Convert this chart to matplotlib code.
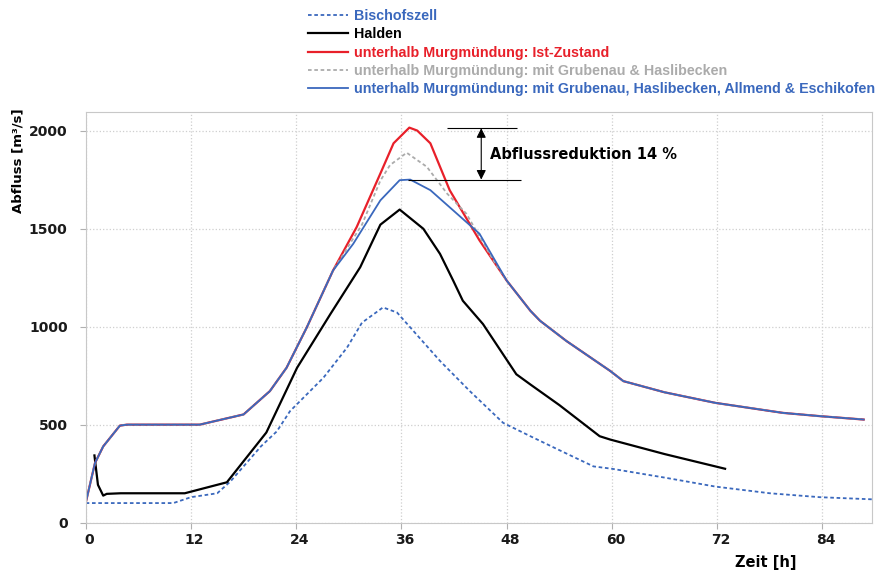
#Abflussganglinien Thur - Hochwasser mit Rückhalteräumen

import matplotlib
matplotlib.use("Agg")
import matplotlib.pyplot as plt
from matplotlib.transforms import ScaledTranslation

# Ganglinien (Zeit [h], Abfluss [m3/s])
t_bischofszell = [0, 10, 12, 15, 16.5, 20, 21.8, 23.3, 27.1, 29.8, 31.5, 33.9, 35.5, 37.7, 40.4,
                  43.8, 47.6, 50.7, 54, 57.9, 60, 66, 71.8, 78, 83.7, 89.7]
q_bischofszell = [100, 100, 130, 150, 210, 390, 466, 569, 739, 893, 1020, 1098, 1072, 961, 825,
                  671, 509, 441, 370, 287, 275, 230, 184, 150, 130, 119]

t_halden = [1.0, 1.4, 2.0, 2.4, 4, 11.3, 16.1, 20.6, 24.1, 27.9, 31.3, 33.6, 35.8,
            38.5, 40.4, 41.9, 43, 45.3, 49.1, 50.7, 54, 58.6, 59.8, 66, 72.9]
q_halden = [343, 193, 138, 147, 150, 150, 206, 460, 790, 1064, 1303, 1520, 1597,
            1499, 1371, 1235, 1132, 1013, 757, 705, 600, 441, 424, 350, 275]

# gemeinsamer Anstieg und gemeinsamer Rückgang der drei Varianten unterhalb Murgmündung
t_anstieg = [0, 1.06, 2, 3.9, 4.7, 13, 18, 21, 22.9, 25.2, 28.2]
q_anstieg = [100, 304, 389, 495, 500, 500, 552, 671, 790, 995, 1286]
t_rueckgang = [48, 50.7, 51.8, 54.8, 59.8, 61.3, 66, 71.8, 79.5, 83.8, 88.7]
q_rueckgang = [1235, 1081, 1030, 927, 774, 722, 665, 611, 560, 543, 526]

t_ist = t_anstieg + [30.9, 33.6, 35.1, 36.9, 37.8, 39.3, 41.5, 44.9] + t_rueckgang
q_ist = q_anstieg + [1508, 1781, 1935, 2015, 2000, 1935, 1696, 1440] + q_rueckgang

t_grubenau = t_anstieg + [31.5, 33.6, 34.7, 36.6, 38.9, 41.2, 43.4, 46.5] + t_rueckgang
q_grubenau = q_anstieg + [1520, 1745, 1824, 1887, 1815, 1679, 1576, 1337] + q_rueckgang

t_alle = t_anstieg + [30.5, 33.6, 35.8, 37, 39.3, 41.9, 44.9] + t_rueckgang
q_alle = q_anstieg + [1422, 1644, 1747, 1750, 1696, 1593, 1474] + q_rueckgang

labels = ["Bischofszell",
          "Halden",
          "unterhalb Murgmündung: Ist-Zustand",
          "unterhalb Murgmündung: mit Grubenau & Haslibecken",
          "unterhalb Murgmündung: mit Grubenau, Haslibecken, Allmend & Eschikofen"]
x_ticks = [0, 12, 24, 36, 48, 60, 72, 84]
y_ticks = [0, 500, 1000, 1500, 2000]

blau = "#3a68bd"
rot = "#e8202a"
grau = "#ababab"

plt.rcParams['font.family'] = ['DejaVu Sans']
fig = plt.figure(figsize=(8.85, 5.75), dpi=100)
ax = fig.add_axes([0.0968, 0.091, 0.889, 0.715])

ax.plot(t_bischofszell, q_bischofszell, color=blau, linestyle=(0, (2, 1.5)), lw=1.3, label=labels[0])
ax.plot(t_halden, q_halden, color="black", lw=1.6, label=labels[1])
ax.plot(t_ist, q_ist, color=rot, lw=1.6, label=labels[2])
ax.plot(t_grubenau, q_grubenau, color=grau, linestyle=(0, (2, 1.5)), lw=1.3, label=labels[3])
ax.plot(t_alle, q_alle, color=blau, lw=1.3, label=labels[4])

ax.set_xlim(0, 89.7)
ax.set_ylim(0, 2097)
ax.set_xticks(x_ticks)
ax.set_yticks(y_ticks)
ax.grid(True, color="#cfcfcf", linestyle=":", lw=0.9)
for s in ax.spines.values():
    s.set_color("#c8c8c8")
ax.tick_params(colors="#b0b0b0", length=4, labelcolor="#1a1a1a", labelsize=10)
ax.tick_params(axis="y", pad=9)
for lab in ax.get_xticklabels() + ax.get_yticklabels():
    lab.set_fontweight("bold")
# Zeitbeschriftung leicht nach rechts versetzt wie im Original
verschiebung = ScaledTranslation(3.5 / 100, 0, fig.dpi_scale_trans)
for lab in ax.get_xticklabels():
    lab.set_transform(lab.get_transform() + verschiebung)

# Abflussreduktion
ax.hlines(2012, 41.2, 49.2, color="black", lw=0.8)
ax.hlines(1750, 36.8, 49.6, color="black", lw=0.8)
ax.annotate("", xy=(45.1, 2012), xytext=(45.1, 1750),
            arrowprops=dict(arrowstyle="<|-|>", color="black", lw=0.8, mutation_scale=14,
                            shrinkA=0, shrinkB=0))
ax.text(46.1, 1880, "Abflussreduktion 14 %", fontsize=10.5, fontweight="bold", va="center", ha="left")

fig.text(766 / 885, 1 - 563 / 575, "Zeit [h]", fontsize=10.5, fontweight="bold", ha="center", va="center")
fig.text(18 / 885, 1 - 161 / 575, "Abfluss [m³/s]", fontsize=9.5, fontweight="bold",
         rotation=90, ha="center", va="center")

leg = ax.legend(loc="upper left", bbox_to_anchor=(308 / 885, 1 - 9 / 575), bbox_transform=fig.transFigure,
                frameon=False, handlelength=2.8, handletextpad=0.4, labelspacing=0.3,
                borderaxespad=0, borderpad=0,
                prop={"family": "Liberation Sans", "weight": "bold", "size": 10.3},
                labelcolor=[blau, "black", rot, grau, blau])

fig.savefig("out.png", dpi=100)
